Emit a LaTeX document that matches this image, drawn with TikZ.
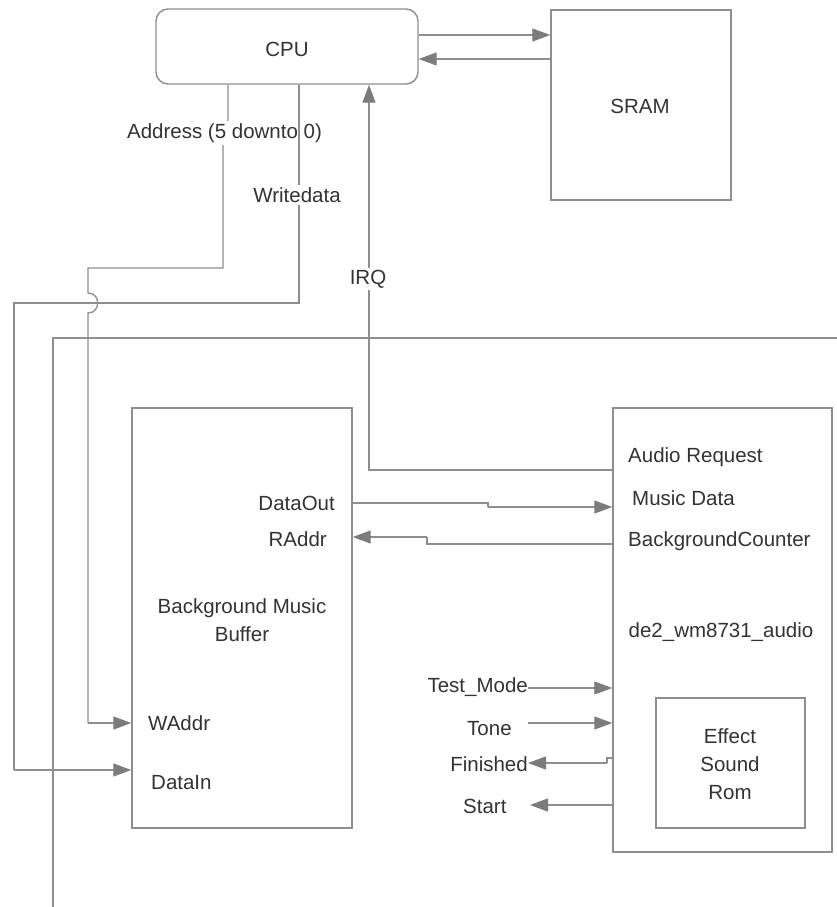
\documentclass[tikz,border=0pt]{standalone}
\usepackage{fontspec}
\setmainfont{Liberation Sans}
\usetikzlibrary{arrows.meta}
\definecolor{wire}{HTML}{8E8E8E}
\definecolor{tip}{HTML}{7C7C7C}
\definecolor{ink}{HTML}{333333}
\begin{document}
\begin{tikzpicture}[x=1pt,y=-1pt,
  box/.style={draw=wire,line width=1.4pt,inner sep=0pt,fill=white},
  wireline/.style={draw=wire,line width=1.3pt},
  arr/.style={wireline,-{Triangle[length=18pt,width=13pt,color=tip]}},
  lbl/.style={inner sep=0pt,text=ink,font=\fontsize{20.5}{28}\selectfont},
  lblw/.style={lbl,fill=white,inner sep=2pt}]
\useasboundingbox (0,0) rectangle (837,907);

% outer frame of the audio subsystem (continues past the edge)
\coordinate (frameTR) at (837,338);
\coordinate (frameTL) at (53,338);
\coordinate (frameBL) at (53,907);
\draw[wireline] (frameTR) -- (frameTL) -- (frameBL);

% blocks
\node[box,rounded corners=12pt,minimum width=262pt,minimum height=75pt] (cpu) at (287,46.5) {};
\node[lbl] at (287,49) {CPU};
\node[box,minimum width=180pt,minimum height=190pt] (sram) at (641,105) {};
\node[lbl] at (640,106) {SRAM};
\node[box,minimum width=220pt,minimum height=420pt] (buf) at (242,618) {};
\node[box,minimum width=219pt,minimum height=444pt] (aud) at (722.5,630) {};
\node[box,minimum width=149pt,minimum height=130pt] (rom) at (730.5,763) {};

% CPU <-> SRAM
\draw[arr] (cpu.east |- 0,35) -- (sram.west |- 0,35);
\draw[arr] (sram.west |- 0,59) -- (cpu.east |- 0,59);

% Address bus: CPU -> WAddr, hopping over the write data line
\coordinate (a1) at (228,133);
\coordinate (a2) at (223,133);
\coordinate (a3) at (223,268);
\coordinate (a4) at (88,268);
\coordinate (a5) at (88,293);
\coordinate (a6) at (88,313);
\coordinate (a7) at (88,723);
\draw[wireline] (cpu.south -| a1) -- (a1) -- (a2) -- (a3) -- (a4) -- (a5)
  .. controls (101,293) and (101,313) .. (a6) -- (a7);
\draw[arr] (a7) -- (buf.west |- a7);
\node[lblw] (addrlbl) at (224.5,133) {Address (5 downto 0)};

% Write data: CPU -> DataIn
\coordinate (w1) at (299,303);
\coordinate (w2) at (14,303);
\coordinate (w3) at (14,770);
\draw[wireline] (cpu.south -| w1) -- (w1) -- (w2) -- (w3);
\draw[arr] (w3) -- (buf.west |- w3);
\node[lblw] at (297,195) {Writedata};

% IRQ: Audio Request -> CPU
\coordinate (i1) at (369,470);
\draw[arr] (aud.west |- i1) -- (i1) -- (cpu.south -| i1);
\node[lblw] at (368,279) {IRQ};

% buffer <-> audio codec
\coordinate (d1) at (488,503);
\coordinate (d2) at (488,507);
\draw[wireline] (buf.east |- d1) -- (d1) -- (d2);
\draw[arr] (d2) -- (aud.west |- d2);
\coordinate (r1) at (427,544);
\coordinate (r2) at (427,537);
\draw[wireline] (aud.west |- r1) -- (r1) -- (r2);
\draw[arr] (r2) -- (buf.east |- r2);

% control signals of the audio codec
\node[lbl,anchor=east] (tm) at (528,687) {Test\_Mode};
\node[lbl,anchor=west] (tone) at (467,729) {Tone};
\node[lbl,anchor=east] (fin) at (528,764) {Finished};
\node[lbl,anchor=west] (start) at (463,806) {Start};
\draw[arr] (tm.east |- 0,688) -- (aud.west |- 0,688);
\draw[arr] (528,723) -- (aud.west |- 0,723);
\coordinate (f1) at (607,758);
\coordinate (f2) at (607,763);
\draw[wireline] (aud.west |- f1) -- (f1) -- (f2);
\draw[arr] (f2) -- (fin.east |- f2);
\draw[arr] (aud.west |- 0,805) -- (530,805);

% texts inside the blocks
\node[lbl,anchor=east] at (335,503) {DataOut};
\node[lbl,anchor=east] at (327,539) {RAddr};
\node[lbl,align=center] at (242,620) {Background Music\\Buffer};
\node[lbl,anchor=west] at (148,723) {WAddr};
\node[lbl,anchor=west] at (151,783) {DataIn};
\node[lbl,anchor=west] at (628,457) {Audio Request};
\node[lbl,anchor=west] at (632,498) {Music Data};
\node[lbl,anchor=west] at (628,541) {BackgroundCounter};
\node[lbl] at (721,632) {de2\_wm8731\_audio};
\node[lbl,align=center] at (730,764) {Effect\\Sound\\Rom};
\end{tikzpicture}
\end{document}
